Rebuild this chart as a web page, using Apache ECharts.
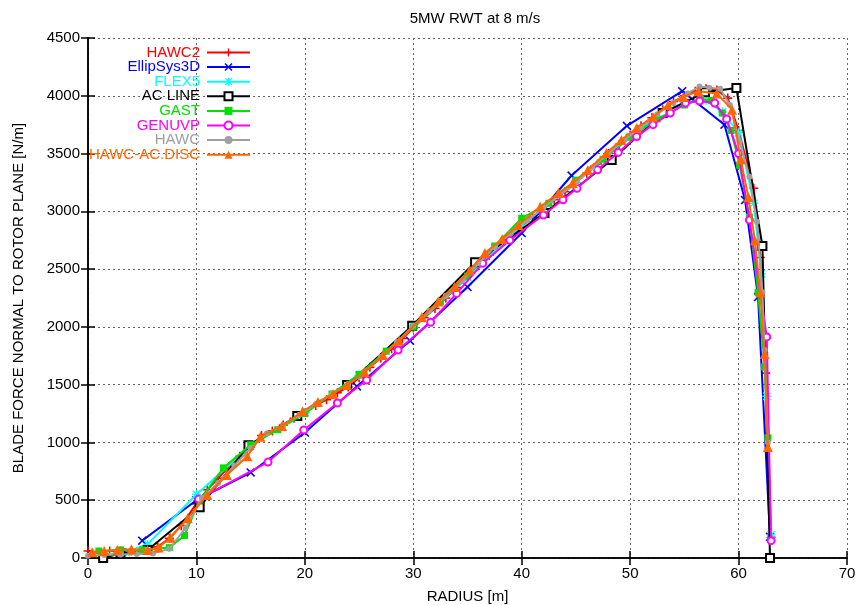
<!DOCTYPE html>
<html>
<head>
<meta charset="utf-8">
<script src="https://cdn.jsdelivr.net/npm/echarts@6/dist/echarts.min.js"></script>
<style>
html,body{margin:0;padding:0;background:#fff;}
#chart{width:856px;height:605px;}
</style>
</head>
<body>
<div id="chart"></div>
<script>
// ---- data: [radius (m), force (N/m)] ----
const seriesNames = ['HAWC2','EllipSys3D','FLEX5','AC LINE','GAST','GENUVP','HAWC','HAWC-AC.DISC'];
const xTicks = [0,10,20,30,40,50,60,70];
const yTicks = [0,500,1000,1500,2000,2500,3000,3500,4000,4500];

const hawc2 = [[0,60],[1,50],[2,60],[3,60],[4,60],[5,65],[6.4,95],[7.5,170],[8.6,280],[10,470],[11,590],[12,690],[13,790],[14,880],[15,960],[16,1060],[17,1100],[18,1150],[19,1210],[20,1260],[21,1320],[22,1370],[23,1430],[24,1480],[25,1560],[26,1650],[27,1730],[28,1810],[29,1900],[30,1990],[31,2080],[32,2160],[33,2250],[34,2340],[35,2430],[36,2530],[37,2620],[38,2710],[39,2790],[40,2870],[41,2950],[42,3020],[43,3100],[44,3170],[45,3250],[46,3330],[47,3410],[48,3500],[49,3580],[50,3660],[51,3740],[52,3810],[53,3880],[54,3950],[55,4000],[56,4040],[57,4060],[58,4050],[59,3980],[60,3700],[61.4,3200],[62,2600],[62.5,1600],[63,180]];

const ellipSys3D = [[5,150],[10,500],[15,740],[20,1085],[24.8,1485],[29.7,1880],[35,2345],[40,2812],[44.6,3310],[49.7,3740],[54.8,4040],[58.7,3750],[60.6,3098],[61.8,2258],[62.9,183]];

const flex5 = [[1.5,30],[3.5,50],[5.5,120],[10,550],[15,970],[20,1260],[25,1580],[30,2000],[35,2430],[40,2880],[45,3250],[50,3650],[53,3860],[55,3940],[57,3960],[58.5,3860],[60,3680],[61.4,3070],[62.1,2460],[62.6,1400],[63,200]];

const acLine = [[1.4,0],[3,40],[5.5,70],[10.3,440],[14.8,975],[19.3,1229],[23.9,1497],[29.9,2010],[35.7,2560],[42.1,2985],[48.3,3444],[53,3850],[56.9,4030],[59.8,4067],[62.2,2700],[62.9,0]];

const gast = [[1,60],[3,70],[5,70],[7.5,90],[8.9,195],[10.3,500],[12.5,780],[15,980],[17.5,1110],[20,1250],[22.5,1420],[25,1590],[27.5,1790],[30,2000],[32.5,2220],[35,2440],[37.5,2700],[40,2940],[42.5,3070],[45,3270],[47.5,3450],[50,3640],[52.5,3800],[55,3920],[56.5,3970],[57.5,3960],[58.5,3850],[59.3,3700],[60.1,3400],[61,2950],[61.8,2300],[62.4,1653],[62.7,1040]];

const genuvp = [[10.2,510],[16.6,830],[19.9,1108],[23,1341],[25.7,1540],[28.6,1800],[31.6,2040],[34,2290],[36.4,2550],[38.9,2750],[42,2968],[43.8,3100],[45.1,3200],[47,3360],[48.9,3510],[50.6,3647],[52.1,3750],[53.7,3850],[55.1,3937],[56.4,3955],[57.8,3937],[58.9,3800],[60,3500],[61,2925],[62.6,1913],[63,150]];

const hawc = [[0,20],[1.5,25],[3,30],[4.5,35],[6,40],[7.5,80],[9,260],[10.5,520],[12,650],[13.5,800],[15,950],[16.5,1080],[18,1150],[19.5,1240],[21,1330],[22.5,1420],[24,1500],[25.5,1610],[27,1740],[28.5,1870],[30,2010],[31.5,2140],[33,2270],[34.5,2400],[36,2550],[37.5,2690],[39,2810],[40.5,2920],[42,3030],[43.5,3140],[45,3250],[46.5,3380],[48,3500],[49.5,3620],[51,3730],[52.5,3840],[54,3940],[55.3,4020],[56.4,4080],[57.3,4070],[58.3,4060],[59.2,3920],[60.1,3600],[61,3300],[61.7,2910],[62.2,2300],[62.4,1800],[62.7,1000]];

const hawcAcDisc = [[0.4,50],[1.5,60],[2.7,70],[4,75],[5.5,70],[6.5,90],[7.6,175],[9.2,345],[11,545],[12.8,718],[14.7,880],[15.9,1050],[17.9,1142],[19.8,1270],[21.2,1350],[22.6,1420],[23.9,1497],[25.5,1610],[27.2,1757],[28.7,1880],[30.8,2086],[32.3,2220],[33.8,2345],[35.2,2490],[36.6,2640],[38.2,2760],[39.7,2882],[41.7,3040],[43.4,3159],[44.7,3245],[46.1,3357],[47.8,3504],[49.2,3617],[50.6,3721],[52.1,3816],[53.5,3920],[54.9,3989],[56.3,4040],[58,4020],[59.4,3880],[60.2,3450],[60.9,3124],[61.5,2750],[62,2300],[62.4,1765],[62.7,960]];

// ---- styling ----
const FONT = 'Liberation Sans';
const colors = ['#ff0000','#0000ff','#00ffff','#000000','#00e000','#ff00ff','#a0a0a0','#ff6600'];
const plusPath = 'path://M3.3,0H4.7V3.3H8V4.7H4.7V8H3.3V4.7H0V3.3H3.3Z';
const crossPath = 'path://M0,1L1,0L4,3L7,0L8,1L5,4L8,7L7,8L4,5L1,8L0,7L3,4Z';
const starPath = 'path://M3.4,0H4.6V2.6L6.9,0.3L7.7,1.1L5.4,3.4H8V4.6H5.4L7.7,6.9L6.9,7.7L4.6,5.4V8H3.4V5.4L1.1,7.7L0.3,6.9L2.6,4.6H0V3.4H2.6L0.3,1.1L1.1,0.3L3.4,2.6Z';
const symbols = [plusPath, crossPath, starPath, 'emptyRect', 'rect', 'emptyCircle', 'circle', 'triangle'];
const symbolSizes = [9, 9, 9, 8, 7, 7, 6, 10];
const datasets = [hawc2, ellipSys3D, flex5, acLine, gast, genuvp, hawc, hawcAcDisc];

const series = datasets.map((d, i) => ({
  name: seriesNames[i],
  type: 'line',
  data: d,
  xAxisIndex: 0,
  yAxisIndex: 0,
  symbol: symbols[i],
  symbolSize: symbolSizes[i],
  showAllSymbol: true,
  showSymbol: true,
  clip: true,
  lineStyle: {color: colors[i], width: 2, type: 'solid'},
  itemStyle: {color: colors[i], borderColor: colors[i], borderWidth: (symbols[i].indexOf('empty') === 0) ? 1.6 : 0},
  emphasis: {disabled: true},
  z: 3 + i
}));

const gridLine = {show: true, lineStyle: {color: '#666', type: [2, 3], width: 1}};
const axisLine = {show: true, lineStyle: {color: '#000', width: 1.5}};
const tick = {show: true, inside: true, length: 7, lineStyle: {color: '#000', width: 1.5}};
const labelStyle = {color: '#000', fontFamily: FONT, fontSize: 15};

const option = {
  animation: false,
  backgroundColor: '#fff',
  title: {
    text: '5MW RWT at 8 m/s',
    left: 470, top: 6, textAlign: 'center',
    textStyle: {fontFamily: FONT, fontSize: 15, fontWeight: 'normal', color: '#000'}
  },
  legend: {
    orient: 'vertical',
    left: 81, top: 40,
    align: 'right',
    itemWidth: 43, itemHeight: 10, itemGap: -0.4,
    selectedMode: false,
    textStyle: {fontFamily: FONT, fontSize: 15, lineHeight: 14, width: 114, align: 'right', padding: [0, 2, 0, 0]},
    data: seriesNames.map((n, i) => ({name: n, textStyle: {color: colors[i]}}))
  },
  grid: {left: 88, right: 9, top: 38, bottom: 47, containLabel: false, outerBoundsMode: 'none'},
  xAxis: [{
    type: 'value', min: 0, max: 70, interval: 10, position: 'bottom',
    name: 'RADIUS [m]', nameLocation: 'middle', nameGap: 31,
    nameTextStyle: labelStyle,
    axisLine: axisLine, axisTick: tick, splitLine: gridLine,
    axisLabel: Object.assign({margin: 8, formatter: v => String(v)}, labelStyle)
  }, {
    type: 'value', min: 0, max: 70, interval: 10, position: 'top',
    axisLine: axisLine, axisTick: tick, splitLine: {show: false}, axisLabel: {show: false}
  }],
  yAxis: [{
    type: 'value', min: 0, max: 4500, interval: 500, position: 'left',
    name: 'BLADE FORCE NORMAL TO ROTOR PLANE [N/m]', nameLocation: 'middle', nameGap: 62,
    nameTextStyle: labelStyle,
    axisLine: axisLine, axisTick: tick, splitLine: gridLine,
    axisLabel: Object.assign({margin: 8, formatter: v => String(v)}, labelStyle)
  }, {
    type: 'value', min: 0, max: 4500, interval: 500, position: 'right',
    axisLine: axisLine, axisTick: tick, splitLine: {show: false}, axisLabel: {show: false}
  }],
  series: series
};

const chart = echarts.init(document.getElementById('chart'), null, {renderer: 'canvas'});
chart.setOption(option);
</script>
</body>
</html>
